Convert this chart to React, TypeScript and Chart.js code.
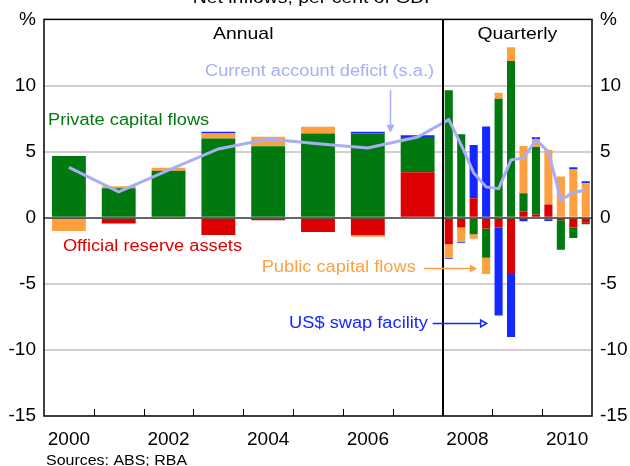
import React, { useEffect, useRef } from 'react';
import { Chart, registerables } from 'chart.js';

Chart.register(...registerables);

// ---------- data ----------
const annualYears = [2000, 2001, 2002, 2003, 2004, 2005, 2006, 2007];
const quarterLabels = [
  '2008Q1', '2008Q2', '2008Q3', '2008Q4',
  '2009Q1', '2009Q2', '2009Q3', '2009Q4',
  '2010Q1', '2010Q2', '2010Q3', '2010Q4',
];
const axisYearLabels = ['2000', '2001', '2002', '2003', '2004', '2005', '2006', '2007', '2008', '2009', '2010'];

// Annual, per cent of GDP
const annualOfficial = [-0.1, -0.44, -0.1, -1.31, -0.2, -1.08, -1.33, 3.43];
const annualPrivate = [4.66, 2.22, 3.55, 5.99, 5.4, 6.36, 6.36, 2.67];
const annualPublic = [-0.91, 0.15, 0.22, 0.37, 0.73, 0.52, -0.12, 0];
const annualSwap = [0, 0, 0, 0.15, 0, 0, 0.15, 0.14];
const annualCAD = [3.8, 1.95, 3.6, 5.2, 5.96, 5.6, 5.27, 6.1];

// Quarterly, per cent of GDP
const quarterOfficial = [-2.0, -0.74, 1.48, -0.81, -0.74, -4.26, 0.47, 0.25, 0.99, -0.2, -0.74, -0.39];
const quarterPrivate = [9.65, 6.31, -1.26, -2.22, 9.0, 11.85, 1.38, 5.1, -0.15, -2.22, -0.79, -0.1];
const quarterPublic = [-1.03, -1.08, -0.34, -1.23, 0.45, 1.05, 3.57, 0.59, 4.13, 3.12, 3.64, 2.6];
const quarterSwap = [-0.07, -0.08, 4.01, 6.9, -6.65, -4.76, -0.27, 0.15, -0.1, 0, 0.17, 0.15];
const quarterCAD = [7.42, 5.5, 3.39, 2.33, 2.2, 4.38, 4.5, 5.87, 5.0, 1.34, 1.91, 2.1];

const yTickValues = [-15, -10, -5, 0, 5, 10, 15];

// ---------- styles ----------
const GREEN = '#007A10';
const RED = '#DC0000';
const ORANGE = '#FFA040';
const BLUE = '#1428FF';
const LAVENDER = '#A8ADF5';
const FONT = '"Liberation Sans", Arial, Helvetica, sans-serif';
const SX = 1.14;

const annualX = annualYears.map((y) => y + 0.5);
const quarterX = quarterLabels.map((l) => Number(l.slice(0, 4)) + (Number(l.slice(5)) - 0.5) / 4);

function pts(xs: number[], ys: number[]) {
  return xs.map((x, i) => ({ x, y: ys[i] }));
}

function drawText(ctx: CanvasRenderingContext2D, s: string, x: number, y: number, color: string, size: number, align: CanvasTextAlign, baseline: CanvasTextBaseline = 'middle') {
  ctx.save();
  ctx.font = `${size}px ${FONT}`;
  ctx.fillStyle = color;
  ctx.textAlign = align;
  ctx.textBaseline = baseline;
  ctx.translate(x, y);
  ctx.scale(SX, 1);
  ctx.fillText(s, 0, 0);
  ctx.restore();
}

const annotate = {
  id: 'annotate',
  afterDatasetsDraw(chart: any) {
    const ctx: CanvasRenderingContext2D = chart.ctx;
    const { left, right, top, bottom } = chart.chartArea;
    const xs = chart.scales.xA;
    const ys = chart.scales.y;
    const X = (v: number) => xs.getPixelForValue(v);
    const Y = (v: number) => ys.getPixelForValue(v);
    ctx.save();
    // zero line over bars
    ctx.strokeStyle = 'rgba(0,0,0,0.6)';
    ctx.lineWidth = 2;
    ctx.beginPath();
    ctx.moveTo(left, Math.round(Y(0)));
    ctx.lineTo(right, Math.round(Y(0)));
    ctx.stroke();
    // x tick marks (inside)
    ctx.strokeStyle = '#000';
    ctx.lineWidth = 1;
    ctx.beginPath();
    for (let yr = 2001; yr <= 2010; yr++) {
      const px = Math.round(X(yr)) + 0.5;
      ctx.moveTo(px, bottom);
      ctx.lineTo(px, bottom - 7);
    }
    ctx.stroke();
    // divider annual / quarterly
    ctx.lineWidth = 2;
    ctx.beginPath();
    ctx.moveTo(Math.round(X(2008)), top);
    ctx.lineTo(Math.round(X(2008)), bottom);
    ctx.stroke();
    // frame
    ctx.lineWidth = 1.5;
    ctx.strokeRect(left, top, right - left, bottom - top);

    // section labels
    drawText(ctx, 'Annual', X(2004), Y(13.9), '#000', 17, 'center');
    drawText(ctx, 'Quarterly', X(2009.5), Y(13.9), '#000', 17, 'center');

    // series labels
    drawText(ctx, 'Private capital flows', X(2000.08), Y(7.35), GREEN, 16, 'left');
    drawText(ctx, 'Official reserve assets', X(2000.38), Y(-2.15), RED, 16, 'left');
    drawText(ctx, 'Current account deficit (s.a.)', X(2007.83), Y(11.08), LAVENDER, 16, 'right');
    drawText(ctx, 'Public capital flows', X(2004.37), Y(-3.8), ORANGE, 16, 'left');
    drawText(ctx, 'US$ swap facility', X(2004.92), Y(-8.0), BLUE, 16, 'left');

    // CAD arrow (down)
    const ax = Math.round(X(2006.95)) + 0.5;
    const ay1 = Y(9.65);
    const ay2 = Y(6.42);
    ctx.strokeStyle = LAVENDER;
    ctx.fillStyle = LAVENDER;
    ctx.lineWidth = 1.5;
    ctx.beginPath();
    ctx.moveTo(ax, ay1);
    ctx.lineTo(ax, ay2 - 7);
    ctx.stroke();
    ctx.beginPath();
    ctx.moveTo(ax, ay2);
    ctx.lineTo(ax - 4, ay2 - 8);
    ctx.lineTo(ax + 4, ay2 - 8);
    ctx.closePath();
    ctx.fill();

    // Public capital flows arrow (filled head)
    const py = Math.round(Y(-3.8)) + 0.5;
    const px1 = X(2007.63);
    const px2 = X(2008.69);
    ctx.strokeStyle = ORANGE;
    ctx.fillStyle = ORANGE;
    ctx.beginPath();
    ctx.moveTo(px1, py);
    ctx.lineTo(px2 - 6, py);
    ctx.stroke();
    ctx.beginPath();
    ctx.moveTo(px2, py);
    ctx.lineTo(px2 - 7, py - 4);
    ctx.lineTo(px2 - 7, py + 4);
    ctx.closePath();
    ctx.fill();

    // US$ swap arrow (open head)
    const sy = Math.round(Y(-8.0)) + 0.5;
    const sx1 = X(2007.8);
    const sx2 = X(2008.885);
    ctx.strokeStyle = BLUE;
    ctx.fillStyle = '#fff';
    ctx.beginPath();
    ctx.moveTo(sx1, sy);
    ctx.lineTo(sx2 - 6, sy);
    ctx.stroke();
    ctx.beginPath();
    ctx.moveTo(sx2, sy);
    ctx.lineTo(sx2 - 6, sy - 3.5);
    ctx.lineTo(sx2 - 6, sy + 3.5);
    ctx.closePath();
    ctx.fill();
    ctx.stroke();

    // title (clipped at the top) and source
    drawText(ctx, 'Net inflows, per cent of GDP', chart.width / 2, 3, '#000', 17, 'center', 'alphabetic');
    drawText(ctx, 'Sources: ABS; RBA', 46, 465, '#000', 14, 'left', 'alphabetic');
    ctx.restore();
  },
};

function barSet(label: string, xs: number[], ys: number[], color: string, axis: string, pct: number) {
  return {
    type: 'bar' as const,
    label,
    data: pts(xs, ys),
    backgroundColor: color,
    xAxisID: axis,
    yAxisID: 'y',
    grouped: false,
    categoryPercentage: 1,
    barPercentage: pct,
    borderWidth: 0,
  };
}

const tickFont = { family: FONT, size: 19 };

const hiddenX = (stacked: boolean) => ({
  type: 'linear',
  axis: 'x',
  display: false,
  offset: false,
  min: 2000,
  max: 2011,
  stacked,
  grid: { offset: false },
  ticks: { stepSize: 1 },
});

export default function App() {
  const ref = useRef<HTMLCanvasElement | null>(null);

  useEffect(() => {
    if (!ref.current) return;
    const yTickCb = (v: any) => (Number(v) === 15 ? '%' : String(v));
    const chart = new Chart(ref.current, {
      type: 'bar',
      data: {
        datasets: [
          {
            type: 'line' as const,
            label: 'Current account deficit',
            data: pts([...annualX, ...quarterX], [...annualCAD, ...quarterCAD]),
            borderColor: LAVENDER,
            borderWidth: 3,
            pointRadius: 0,
            tension: 0,
            xAxisID: 'xL',
            yAxisID: 'y',
            order: -1,
            stack: 'cad',
          } as any,
          barSet('Official reserve assets', annualX, annualOfficial, RED, 'xA', 0.68),
          barSet('Private capital flows', annualX, annualPrivate, GREEN, 'xA', 0.68),
          barSet('Public capital flows', annualX, annualPublic, ORANGE, 'xA', 0.68),
          barSet('US$ swap facility', annualX, annualSwap, BLUE, 'xA', 0.68),
          barSet('Official reserve assets (q)', quarterX, quarterOfficial, RED, 'xQ', 0.65),
          barSet('Private capital flows (q)', quarterX, quarterPrivate, GREEN, 'xQ', 0.65),
          barSet('Public capital flows (q)', quarterX, quarterPublic, ORANGE, 'xQ', 0.65),
          barSet('US$ swap facility (q)', quarterX, quarterSwap, BLUE, 'xQ', 0.65),
        ],
      },
      options: {
        animation: false,
        responsive: false,
        devicePixelRatio: 1,
        layout: { padding: { top: 12, left: 0, right: 0, bottom: 0 } },
        plugins: {
          legend: { display: false },
          tooltip: { enabled: false },
          title: { display: false },
        },
        scales: {
          x: {
            type: 'category',
            axis: 'x',
            position: 'bottom',
            labels: axisYearLabels,
            offset: true,
            grid: { display: false, drawTicks: false, offset: true },
            border: { display: false },
            ticks: {
              autoSkip: false,
              maxRotation: 0,
              minRotation: 0,
              color: '#000',
              font: tickFont,
              padding: 12,
              callback: (_v: any, i: number) => (i % 2 === 0 ? axisYearLabels[i] : ''),
            },
            afterFit: (s: any) => { s.height = 50; },
          },
          xA: hiddenX(true),
          xQ: hiddenX(true),
          xL: hiddenX(false),
          y: {
            type: 'linear',
            axis: 'y',
            position: 'left',
            min: -15,
            max: 15,
            stacked: true,
            afterBuildTicks: (s: any) => { s.ticks = yTickValues.map((value) => ({ value })); },
            ticks: { color: '#000', font: tickFont, padding: 8, callback: yTickCb },
            grid: {
              drawTicks: false,
              lineWidth: 2,
              color: (c: any) => {
                const v = c.tick ? c.tick.value : 0;
                return v === 0 || Math.abs(v) === 15 ? 'rgba(0,0,0,0)' : '#D0D0D0';
              },
            },
            border: { display: false },
            afterFit: (s: any) => { s.width = 44; },
          },
          y2: {
            type: 'linear',
            axis: 'y',
            position: 'right',
            min: -15,
            max: 15,
            afterBuildTicks: (s: any) => { s.ticks = yTickValues.map((value) => ({ value })); },
            ticks: { color: '#000', font: tickFont, padding: 8, callback: yTickCb },
            grid: { display: false, drawTicks: false },
            border: { display: false },
            afterFit: (s: any) => { s.width = 38; },
          },
        },
      } as any,
      plugins: [annotate],
    });
    return () => chart.destroy();
  }, []);

  return (
    <div style={{ position: 'fixed', left: 0, top: 0, width: 630, height: 466, background: '#fff' }}>
      <canvas ref={ref} width={630} height={466} style={{ display: 'block', width: 630, height: 466 }} />
    </div>
  );
}
